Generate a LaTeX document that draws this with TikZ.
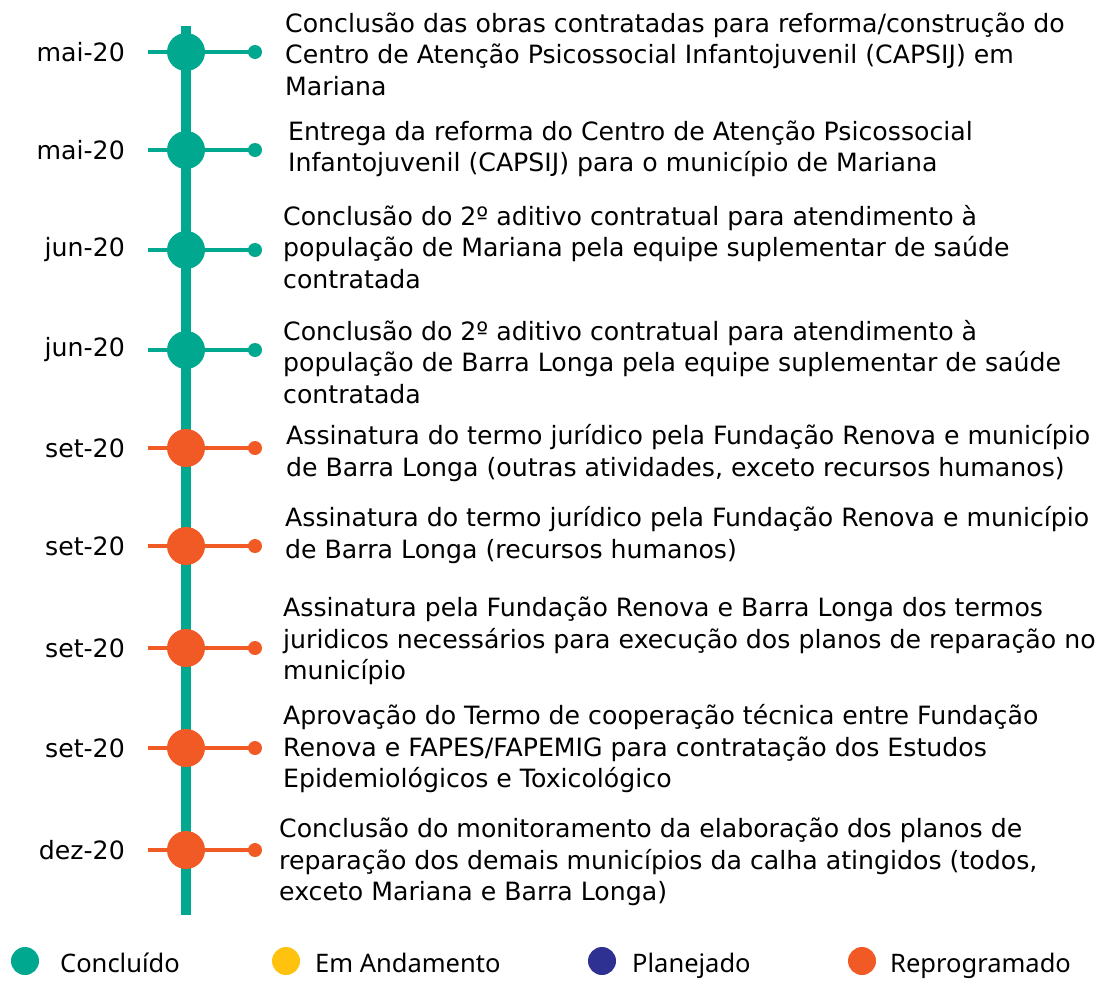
\documentclass[tikz,border=0pt]{standalone}
\usepackage{fontspec}
\setmainfont{DejaVu Sans}
\newfontfamily\legendfont{Noto Sans}
\definecolor{cgreen}{RGB}{0,168,143}
\definecolor{corange}{RGB}{241,90,36}
\definecolor{cyellow}{RGB}{255,194,14}
\definecolor{cblue}{RGB}{46,49,146}
\begin{document}
\begin{tikzpicture}[x=1pt,y=-1pt,
  bigdot/.style={circle,fill=#1,minimum size=38pt,inner sep=0pt},
  smalldot/.style={circle,fill=#1,minimum size=14pt,inner sep=0pt},
  stem/.style={draw=#1,line width=4pt},
  datelabel/.style={anchor=east,font=\fontsize{25.2}{31}\selectfont,inner sep=0pt},
  desc/.style={anchor=west,align=left,font=\fontsize{25.2}{31.5}\selectfont,inner sep=0pt},
  legdot/.style={circle,fill=#1,minimum size=28pt,inner sep=0pt},
  legtext/.style={anchor=base west,font=\legendfont\fontsize{25.5}{30}\selectfont,inner sep=0pt}]
\useasboundingbox (0,0) rectangle (1097,980);
\coordinate (top) at (186,26);
\coordinate (bot) at (186,915);
\draw[cgreen,line width=10pt] (top) -- (bot);
% rows
\foreach \i/\y/\c/\d in {1/52/cgreen/mai-20,2/150/cgreen/mai-20,3/250/cgreen/jun-20,4/350/cgreen/jun-20,5/448/corange/set-20,6/546/corange/set-20,7/648/corange/set-20,8/748/corange/set-20,9/850/corange/dez-20}{
  \coordinate (l\i) at (148,\y);
  \node[smalldot=\c] (d\i) at (255,\y) {};
  \draw[stem=\c] (l\i) -- (d\i.center);
  \node[bigdot=\c] (c\i) at (186,\y) {};
  \node[datelabel] (t\i) at (125,\y) {\d};
}
\node[desc] (x1) at (285,54) {Conclusão das obras contratadas para reforma/construção do\\Centro de Atenção Psicossocial Infantojuvenil (CAPSIJ) em\\Mariana};
\node[desc] (x2) at (288,149) {Entrega da reforma do Centro de Atenção Psicossocial\\Infantojuvenil (CAPSIJ) para o município de Mariana};
\node[desc] (x3) at (283,247) {Conclusão do 2º aditivo contratual para atendimento à\\população de Mariana pela equipe suplementar de saúde\\contratada};
\node[desc] (x4) at (283,362) {Conclusão do 2º aditivo contratual para atendimento à\\população de Barra Longa pela equipe suplementar de saúde\\contratada};
\node[desc] (x5) at (286,453) {Assinatura do termo jurídico pela Fundação Renova e município\\de Barra Longa (outras atividades, exceto recursos humanos)};
\node[desc] (x6) at (285,535) {Assinatura do termo jurídico pela Fundação Renova e município\\de Barra Longa (recursos humanos)};
\node[desc] (x7) at (283,641) {Assinatura pela Fundação Renova e Barra Longa dos termos\\juridicos necessários para execução dos planos de reparação no\\município};
\node[desc] (x8) at (283,749) {Aprovação do Termo de cooperação técnica entre Fundação\\Renova e FAPES/FAPEMIG para contratação dos Estudos\\Epidemiológicos e Toxicológico};
\node[desc] (x9) at (279,862) {Conclusão do monitoramento da elaboração dos planos de\\reparação dos demais municípios da calha atingidos (todos,\\exceto Mariana e Barra Longa)};
% legend
\node[legdot=cgreen] (g1) at (25,961) {};
\node[legtext] (g1t) at (60,972) {Concluído};
\node[legdot=cyellow] (g2) at (286,961) {};
\node[legtext] (g2t) at (315,972) {Em Andamento};
\node[legdot=cblue] (g3) at (602,961) {};
\node[legtext] (g3t) at (632,972) {Planejado};
\node[legdot=corange] (g4) at (862,961) {};
\node[legtext] (g4t) at (890,972) {Reprogramado};
\end{tikzpicture}
\end{document}
